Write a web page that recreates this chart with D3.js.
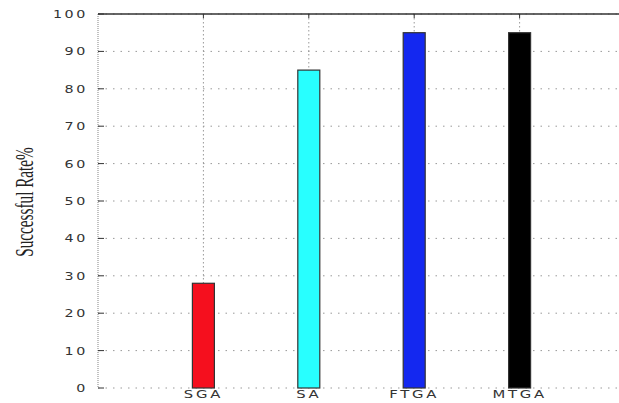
<!DOCTYPE html>
<meta charset="utf-8">
<style>
  body { margin: 0; background: #fff; }
  text { font-family: "DejaVu Sans", sans-serif; fill: #333; }
</style>
<body>
<script src="https://d3js.org/d3.v7.min.js"></script>
<script>
var methods = ["SGA", "SA", "FTGA", "MTGA"];
var rates = [28, 85, 95, 95];
var colors = ["#f50f1e", "#28ffff", "#1428f0", "#000000"];
var yTicks = [0, 10, 20, 30, 40, 50, 60, 70, 80, 90, 100];

var width = 619, height = 403;
var plotLeft = 98, plotTop = 14, plotBottom = 388, plotRight = 625;

var svg = d3.select("body").append("svg")
  .attr("width", width)
  .attr("height", height);

var x = d3.scaleLinear().domain([0, methods.length + 1]).range([plotLeft, plotRight]);
var y = d3.scaleLinear().domain([0, 100]).range([plotBottom, plotTop]);

// horizontal grid
svg.selectAll(".hgrid").data(yTicks).enter().append("line")
  .attr("x1", plotLeft).attr("x2", width)
  .attr("y1", function(d) { return y(d); })
  .attr("y2", function(d) { return y(d); })
  .attr("stroke", "#999").attr("stroke-width", 1)
  .attr("stroke-dasharray", "1.5,6");

// vertical grid
svg.selectAll(".vgrid").data(methods).enter().append("line")
  .attr("x1", function(d, i) { return x(i + 1); })
  .attr("x2", function(d, i) { return x(i + 1); })
  .attr("y1", plotTop).attr("y2", plotBottom)
  .attr("stroke", "#999").attr("stroke-width", 1)
  .attr("stroke-dasharray", "1.5,2.5");

// left axis (dotted)
svg.append("line")
  .attr("x1", plotLeft).attr("x2", plotLeft).attr("y1", plotTop).attr("y2", plotBottom)
  .attr("stroke", "#999").attr("stroke-width", 1.2)
  .attr("stroke-dasharray", "1,1");

// top border
svg.append("line")
  .attr("x1", plotLeft).attr("x2", width).attr("y1", plotTop).attr("y2", plotTop)
  .attr("stroke", "#333").attr("stroke-width", 1.5);

// y ticks
svg.selectAll(".ytick").data(yTicks).enter().append("line")
  .attr("x1", plotLeft).attr("x2", plotLeft + 6)
  .attr("y1", function(d) { return y(d); })
  .attr("y2", function(d) { return y(d); })
  .attr("stroke", "#333").attr("stroke-width", 1);

svg.selectAll(".ylab").data(yTicks).enter().append("text")
  .attr("transform", function(d) { return "translate(" + (plotLeft - 10) + "," + (y(d) + 4) + ") scale(1.3,1)"; })
  .attr("text-anchor", "end")
  .attr("font-size", 11)
  .attr("letter-spacing", 2)
  .text(function(d) { return d; });

// top ticks at categories
svg.selectAll(".xtick").data(methods).enter().append("line")
  .attr("x1", function(d, i) { return x(i + 1); })
  .attr("x2", function(d, i) { return x(i + 1); })
  .attr("y1", plotTop).attr("y2", plotTop + 4)
  .attr("stroke", "#333");

// bars
var bw = 22;
svg.selectAll(".bar").data(rates).enter().append("rect")
  .attr("x", function(d, i) { return x(i + 1) - bw / 2; })
  .attr("y", function(d) { return y(d); })
  .attr("width", bw)
  .attr("height", function(d) { return y(0) - y(d); })
  .attr("fill", function(d, i) { return colors[i]; })
  .attr("stroke", "#333").attr("stroke-width", 1.2);

// category labels
svg.selectAll(".xlab").data(methods).enter().append("text")
  .attr("transform", function(d, i) { return "translate(" + x(i + 1) + ",398) scale(1.35,1)"; })
  .attr("text-anchor", "middle")
  .attr("font-size", 11)
  .attr("letter-spacing", 2)
  .text(function(d) { return d; });

// y axis title (tall, condensed serif)
svg.append("text")
  .attr("transform", "translate(33,202) rotate(-90) scale(0.61,1)")
  .attr("text-anchor", "middle")
  .style("font-family", "'Liberation Serif', serif")
  .style("fill", "#222")
  .attr("font-size", 25)
  .text("Successful Rate%");
</script>
</body>
